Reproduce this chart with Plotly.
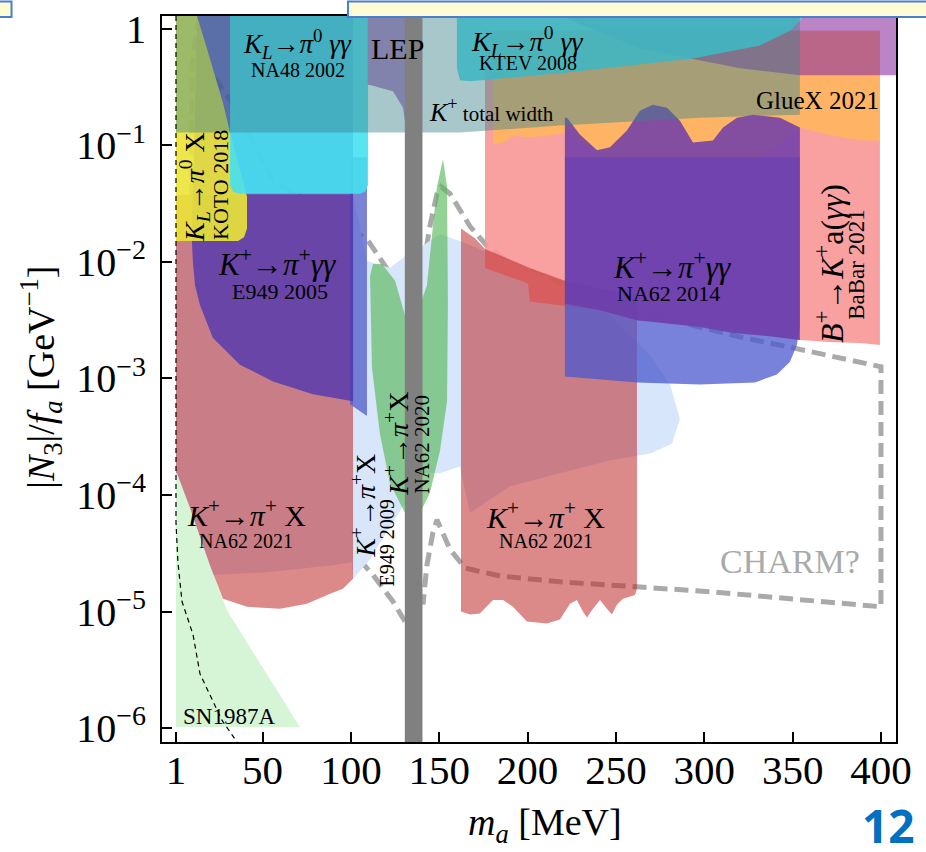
import math
import plotly.graph_objects as go

SERIF = "Liberation Serif, Times New Roman, serif"

# ---------------- data (m_a in MeV, |N3|/f_a in GeV^-1) ----------------
sn_x = [1, 8.9, 20.2, 29.9, 71.2, 1]
sn_y = [1.87e-4, 7.76e-5, 2.5e-5, 1.02e-5, 1.02e-6, 1.02e-6]

e949x_x = [1, 101.2, 109.1, 122.1, 130.6, 140.2, 150.4, 161.7, 195.7, 241, 269.3, 280.6, 286.2, 281.7,
           269.3, 261.9, 246.6, 218.3, 190, 167.4, 161.7, 150.4, 139.1, 131.7, 126.1, 110.8, 101.2,
           100.6, 89.9, 52.5, 21.9, 19.5, 8.9, 1]
e949x_y = [0.0377, 0.0377, 0.0102, 0.00889, 0.0112, 0.0137, 0.0173, 0.0151, 0.00925, 0.00424, 0.0016,
           0.000889, 0.000449, 0.000276, 0.000227, 0.000218, 0.000198, 0.000154, 0.000119, 7.03e-5,
           0.000176, 0.000154, 0.000154, 9.08e-5, 6.64e-5, 2.81e-5, 1.91e-5, 2.65e-5, 2.5e-5, 2.18e-5,
           2.06e-5, 2.65e-5, 7.76e-5, 0.000154]

babar_x = [175.9, 399.4, 399.4, 388.1, 371.1, 354.1, 320.2, 286.2, 261.9, 241, 201.3, 200.2, 175.9]
babar_y = [0.962, 0.962, 0.00194, 0.00202, 0.00206, 0.00214, 0.0026, 0.00298, 0.00316, 0.00385,
           0.00458, 0.00652, 0.00889]

na62l_x = [1, 101.2, 101.2, 95.5, 86.5, 75.1, 59.9, 41.2, 27.6, 20.2, 8.9, 1.6, 1]
na62l_y = [0.0377, 0.0377, 1.91e-5, 1.57e-5, 1.39e-5, 1.17e-5, 1.06e-5, 1.10e-5, 1.29e-5, 2.5e-5,
           7.76e-5, 0.000154, 0.000154]

na62m_x = [162.3, 170.2, 175.9, 201.3, 221.1, 241, 261.9, 261.9, 260.8, 254, 250.6, 247.7, 244.9, 241,
           237, 233.6, 231.3, 227.9, 224, 218.3, 210.9, 199.6, 191.7, 186.1, 180.4, 173, 167.4, 162.3]
na62m_y = [0.0194, 0.016, 0.0129, 0.00889, 0.0069, 0.0059, 0.00515, 1.57e-5, 1.39e-5, 1.29e-5, 1.15e-5,
           9.44e-6, 1.06e-5, 1.26e-5, 1.06e-5, 8.89e-6, 1.0e-5, 1.26e-5, 1.17e-5, 8.55e-6, 7.91e-6,
           8.23e-6, 1.10e-5, 1.26e-5, 1.26e-5, 9.62e-6, 9.44e-6, 1.0e-5]

gluex_x = [180.4, 399.4, 399.4, 388.1, 369.4, 354.1, 331.5, 241, 222.3, 211.5, 201.3, 192.8, 186.1, 180.4]
gluex_y = [0.962, 0.962, 0.110, 0.110, 0.124, 0.142, 0.0791, 0.0791, 0.129, 0.1216, 0.117, 0.1216,
           0.106, 0.102]

na62b_x = [221.1, 354.1, 354.1, 352.4, 348.5, 341.1, 328.6, 297.5, 261.9, 221.1]
na62b_y = [0.0791, 0.0791, 0.00287, 0.00194, 0.00139, 0.00108, 0.000925, 0.000889, 0.000925, 0.00104]

na62p_x = [221.1, 222.3, 229.6, 239.3, 246.6, 256.2, 263.6, 270.9, 278.9, 286.2, 291.9, 293.6, 304.9,
           310.6, 318.5, 327.5, 342.8, 350.2, 354.1, 354.1, 335.5, 316.2, 297.5, 261.9, 241, 221.1]
na62p_y = [0.173, 0.173, 0.124, 0.0908, 0.0962, 0.134, 0.198, 0.223, 0.210, 0.163, 0.117, 0.106, 0.110,
           0.142, 0.173, 0.183, 0.173, 0.151, 0.142, 0.00214, 0.00231, 0.00246, 0.00276, 0.00316,
           0.00385, 0.0044]

e949b_x = [99.5, 109.1, 109.1, 99.5]
e949b_y = [0.0791, 0.0791, 0.000477, 0.000602]

e949_x = [12.9, 101.2, 101.2, 78.5, 55.9, 37.2, 21.9, 14.6, 11.8, 10.6, 10, 11.8, 12.9]
e949_y = [1.29, 1.29, 0.000638, 0.000731, 0.000944, 0.00131, 0.00223, 0.00424, 0.00627, 0.00981,
          0.0151, 0.21, 1.29]

koto_x = [1, 12.9, 18.5, 23.1, 27.6, 31.6, 38.9, 41.2, 41.2, 39.5, 36.1, 1]
koto_y = [1.29, 1.29, 0.677, 0.400, 0.231, 0.129, 0.0486, 0.0362, 0.0194, 0.0163, 0.0151, 0.0151]

lepl_x = [109.1, 131.7, 131.7, 129.5, 123.8, 110.8, 109.1]
lepl_y = [1.29, 1.29, 0.124, 0.210, 0.292, 0.329, 0.329]
lepr_x = [218.3, 410, 410, 354.1, 320.2, 263.6, 218.3]
lepr_y = [1.29, 1.29, 0.400, 0.400, 0.458, 0.677, 1.29]

na48_x = [31.6, 109.7, 109.7, 108, 105.1, 37.2, 33.3, 31.6]
na48_y = [1.29, 1.29, 0.0458, 0.04, 0.0385, 0.0385, 0.04, 0.0458]

ktev_x = [160, 355.8, 354.1, 348.5, 331.5, 293.6, 218.3, 167.4, 161.7, 160]
ktev_y = [1.29, 1.29, 1.17, 0.962, 0.718, 0.557, 0.416, 0.355, 0.362, 0.458]

kwidth_x = [1, 354.1, 354.1, 297.5, 218.3, 161.7, 1]
kwidth_y = [1.29, 1.29, 0.183, 0.173, 0.148, 0.129, 0.129]

green_x = [110.8, 112.5, 117.6, 125, 130.6, 139.1, 143, 148.7, 152.1, 154.4, 154.9, 154.4, 150.4, 144.7,
           139.1, 130.6, 122.1, 116.4, 111.9]
green_y = [0.0076, 0.00962, 0.00962, 0.0069, 0.00349, 0.00424, 0.00627, 0.0441, 0.0761, 0.0441, 0.0045,
           0.000638, 0.00024, 0.000104, 7.03e-5, 7.03e-5, 0.000126, 0.000335, 0.00124]

charm_l_x = [130.6, 123.8, 112.5, 101.2, 89.9, 67.2, 48.5, 33.3, 21.9, 14.6, 11.8, 10.6, 9.5, 10, 12.9,
             18.5, 25.9, 33.3, 42.9, 55.9, 71.2, 89.9, 109.1, 120.4, 130.6]
charm_l_y = [8.23e-6, 1.22e-5, 2.06e-5, 3.22e-5, 3.92e-5, 6.14e-5, 0.000119, 0.000292, 0.000731, 0.00329,
             0.00627, 0.0137, 0.0791, 0.458, 1.10, 0.486, 0.329, 0.223, 0.117, 0.0505, 0.0362, 0.0231,
             0.0157, 0.00873, 0.00515]
charm_r_x = [140.8, 144.7, 148.7, 151, 156.1, 167.4, 177, 190, 207, 225.7, 263.6, 320.2, 350.2, 369.4,
             397.7, 400, 400, 350.2, 303.2, 261.9, 218.3, 184.4, 164.6, 156.1, 150.4, 148.7, 146.4, 143,
             140.8]
charm_r_y = [0.00873, 0.0202, 0.0385, 0.0441, 0.0385, 0.0202, 0.0137, 0.00981, 0.0076, 0.0059, 0.0037,
             0.00227, 0.00183, 0.0016, 0.00131, 0.00126, 1.10e-5, 1.29e-5, 1.48e-5, 1.63e-5, 1.80e-5,
             2.02e-5, 2.36e-5, 3.42e-5, 5.46e-5, 6.14e-5, 4.76e-5, 2.5e-5, 1.15e-5]

snline_x = [1, 1, 2.1, 4.4, 10.6, 14.6, 27, 35.5]
snline_y = [1.29, 5.79e-5, 2.65e-5, 1.22e-5, 6.38e-6, 2.92e-6, 1.17e-6, 7.6e-7]

pi0_band = [130.5, 140.5]

x_ticks = [1, 50, 100, 150, 200, 250, 300, 350, 400]
y_ticks = [1, 1e-1, 1e-2, 1e-3, 1e-4, 1e-5, 1e-6]
y_ticktext = ["1", "10<sup>−1</sup>", "10<sup>−2</sup>", "10<sup>−3</sup>", "10<sup>−4</sup>",
              "10<sup>−5</sup>", "10<sup>−6</sup>"]

KPX = "<i>K</i><sup>+</sup>→<i>π</i><sup>+</sup> X"
KPX2 = "<i>K</i><sup>+</sup>→<i>π</i><sup>+</sup>X"
KPGG = "<i>K</i><sup>+</sup>→<i>π</i><sup>+</sup><i>γγ</i>"
KLGG = "<i>K<sub>L</sub></i>→<i>π</i><sup>0</sup> <i>γγ</i>"
labels = [
    (KLGG, 69.5, 0.746, 27, 0, "black"),
    ("NA48 2002", 69.8, 0.441, 20, 0, "black"),
    ("LEP", 126.1, 0.677, 30, 0, "black"),
    (KLGG, 199.6, 0.776, 28, 0, "black"),
    ("KTEV 2008", 200.2, 0.505, 20, 0, "black"),
    ("<span style='font-size:26px'><i>K</i><sup>+</sup></span> total width", 179.6, 0.198, 21, 0, "black"),
    ("GlueX 2021", 364.0, 0.245, 25, 0, "black"),
    ("<i>K<sub>L</sub></i>→<i>π</i><sup>0</sup> X", 11.8, 0.0441, 28, -90, "black"),
    ("KOTO 2018", 26.5, 0.0458, 22, -90, "black"),
    (KPGG, 58.4, 0.00981, 31, 0, "black"),
    ("E949 2005", 59.9, 0.00557, 22, 0, "black"),
    (KPGG, 281.7, 0.00925, 31, 0, "black"),
    ("NA62 2014", 279.7, 0.00537, 22, 0, "black"),
    ("<i>B</i><sup>+</sup>→<i>K</i><sup>+</sup>a(<i>γγ</i>)", 370.6, 0.00962, 32, -90, "black"),
    ("BaBar 2021", 386.4, 0.00962, 23, -90, "black"),
    (KPX2, 126.1, 0.000276, 28, -90, "black"),
    ("NA62 2020", 140.2, 0.000276, 21, -90, "black"),
    (KPX2, 107.4, 8.07e-5, 28, -90, "black"),
    ("E949 2009", 120.4, 3.92e-5, 20, -90, "black"),
    (KPX, 40.9, 7.03e-5, 30, 0, "black"),
    ("NA62 2021", 40.6, 4.07e-5, 20, 0, "black"),
    (KPX, 210.4, 6.78e-5, 30, 0, "black"),
    ("NA62 2021", 210.4, 4.07e-5, 20, 0, "black"),
    ("CHARM?", 348.5, 2.71e-5, 34, 0, "#aaaaaa"),
    ("SN1987A", 31, 1.26e-6, 23, 0, "black"),
]

# ---------------- figure ----------------
fig = go.Figure()


def line(x, y, color, width, dash):
    fig.add_trace(go.Scatter(x=x, y=y, mode="lines", line=dict(color=color, width=width, dash=dash),
                             hoverinfo="skip", showlegend=False))


def area(x, y, color):
    fig.add_trace(go.Scatter(x=x, y=y, mode="lines", fill="toself", fillcolor=color,
                             line=dict(width=0, color="rgba(0,0,0,0)"), hoverinfo="skip",
                             showlegend=False))


line(charm_l_x, charm_l_y, "#aaaaaa", 5, "14px,7px")
line(charm_r_x, charm_r_y, "#aaaaaa", 5, "14px,7px")
area(sn_x, sn_y, "#d6f5d6")
area(e949x_x, e949x_y, "rgb(215,230,250)")
area(babar_x, babar_y, "rgba(248,150,150,0.9)")
area(na62l_x, na62l_y, "rgba(190,40,40,0.55)")
area(na62m_x, na62m_y, "rgba(190,40,40,0.55)")
area(gluex_x, gluex_y, "rgba(255,185,85,0.8)")
area(na62b_x, na62b_y, "rgba(75,88,205,0.75)")
area(na62p_x, na62p_y, "rgba(110,60,170,0.85)")
area(e949b_x, e949b_y, "rgba(80,90,200,0.75)")
area(e949_x, e949_y, "rgba(80,55,175,0.8)")
area(koto_x, koto_y, "rgba(235,228,55,0.9)")
area(lepl_x, lepl_y, "rgba(140,50,160,0.6)")
area(lepr_x, lepr_y, "rgba(140,50,160,0.6)")
area(na48_x, na48_y, "rgba(70,225,240,0.9)")
area(ktev_x, ktev_y, "rgba(70,225,240,0.9)")
area(kwidth_x, kwidth_y, "rgba(60,130,140,0.45)")
area(green_x, green_y, "rgba(90,185,90,0.65)")
line(snline_x, snline_y, "black", 1.2, "5px,4px")

fig.add_shape(type="rect", xref="x", yref="paper", x0=pi0_band[0], x1=pi0_band[1], y0=0, y1=1,
              fillcolor="rgb(128,128,128)", line=dict(width=0), layer="above")

for text, x, y, size, ang, col in labels:
    fig.add_annotation(x=x, y=math.log10(y), xref="x", yref="y", text=text, showarrow=False,
                       textangle=ang, xanchor="center", yanchor="middle",
                       font=dict(family=SERIF, size=size, color=col))

# axis titles
fig.add_annotation(x=-0.166, y=0.502, xref="paper", yref="paper", textangle=-90, showarrow=False,
                   text="|<i>N</i><sub>3</sub>|/<i>f<sub>a</sub></i> [GeV<sup>−1</sup>]",
                   font=dict(family=SERIF, size=38, color="black"), xanchor="center", yanchor="middle")
fig.add_annotation(x=0.522, y=-0.114, xref="paper", yref="paper", showarrow=False,
                   text="<i>m<sub>a</sub></i> [MeV]",
                   font=dict(family=SERIF, size=38, color="black"), xanchor="center", yanchor="middle")
# slide page number
fig.add_annotation(x=0.99, y=-0.115, xref="paper", yref="paper", showarrow=False, text="<b>12</b>",
                   font=dict(family="Noto Sans, Open Sans, sans-serif", size=46, color="#0070c0"),
                   xanchor="center", yanchor="middle")
# slide banner fragments at the top
fig.add_shape(type="rect", xref="paper", yref="paper", x0=0.2534, x1=1.05, y0=0.9986, y1=1.02,
              fillcolor="#fffbd2", line=dict(color="#4a7fd0", width=2), layer="above")
fig.add_shape(type="rect", xref="paper", yref="paper", x0=-0.23, x1=-0.205, y0=0.9986, y1=1.02,
              fillcolor="#fffbd2", line=dict(color="#4a7fd0", width=2), layer="above")

axis_common = dict(ticks="inside", ticklen=10, tickwidth=2, tickcolor="black", showline=True,
                   linecolor="black", linewidth=2, mirror=True, showgrid=False, zeroline=False,
                   ticklabeloverflow="allow")
fig.update_xaxes(range=[-6.92, 408.5], tickvals=x_ticks, ticktext=[str(v) for v in x_ticks],
                 tickfont=dict(family=SERIF, size=41, color="black"), **axis_common)
fig.update_yaxes(type="log", range=[-6.119, 0.110], tickvals=y_ticks, ticktext=y_ticktext,
                 tickfont=dict(family=SERIF, size=40, color="black"), ticklabelstandoff=6, **axis_common)
try:
    fig.update_xaxes(ticklabelstandoff=-9)
except ValueError:
    fig.update_xaxes(ticklabelstandoff=0)

fig.update_layout(width=926, height=852, autosize=False, showlegend=False,
                  margin=dict(l=162, r=30, t=7, b=110), paper_bgcolor="white", plot_bgcolor="white")

fig.write_html("out.html", config={"displayModeBar": False},
               post_script="document.body.style.margin='0';document.body.style.padding='0';")
